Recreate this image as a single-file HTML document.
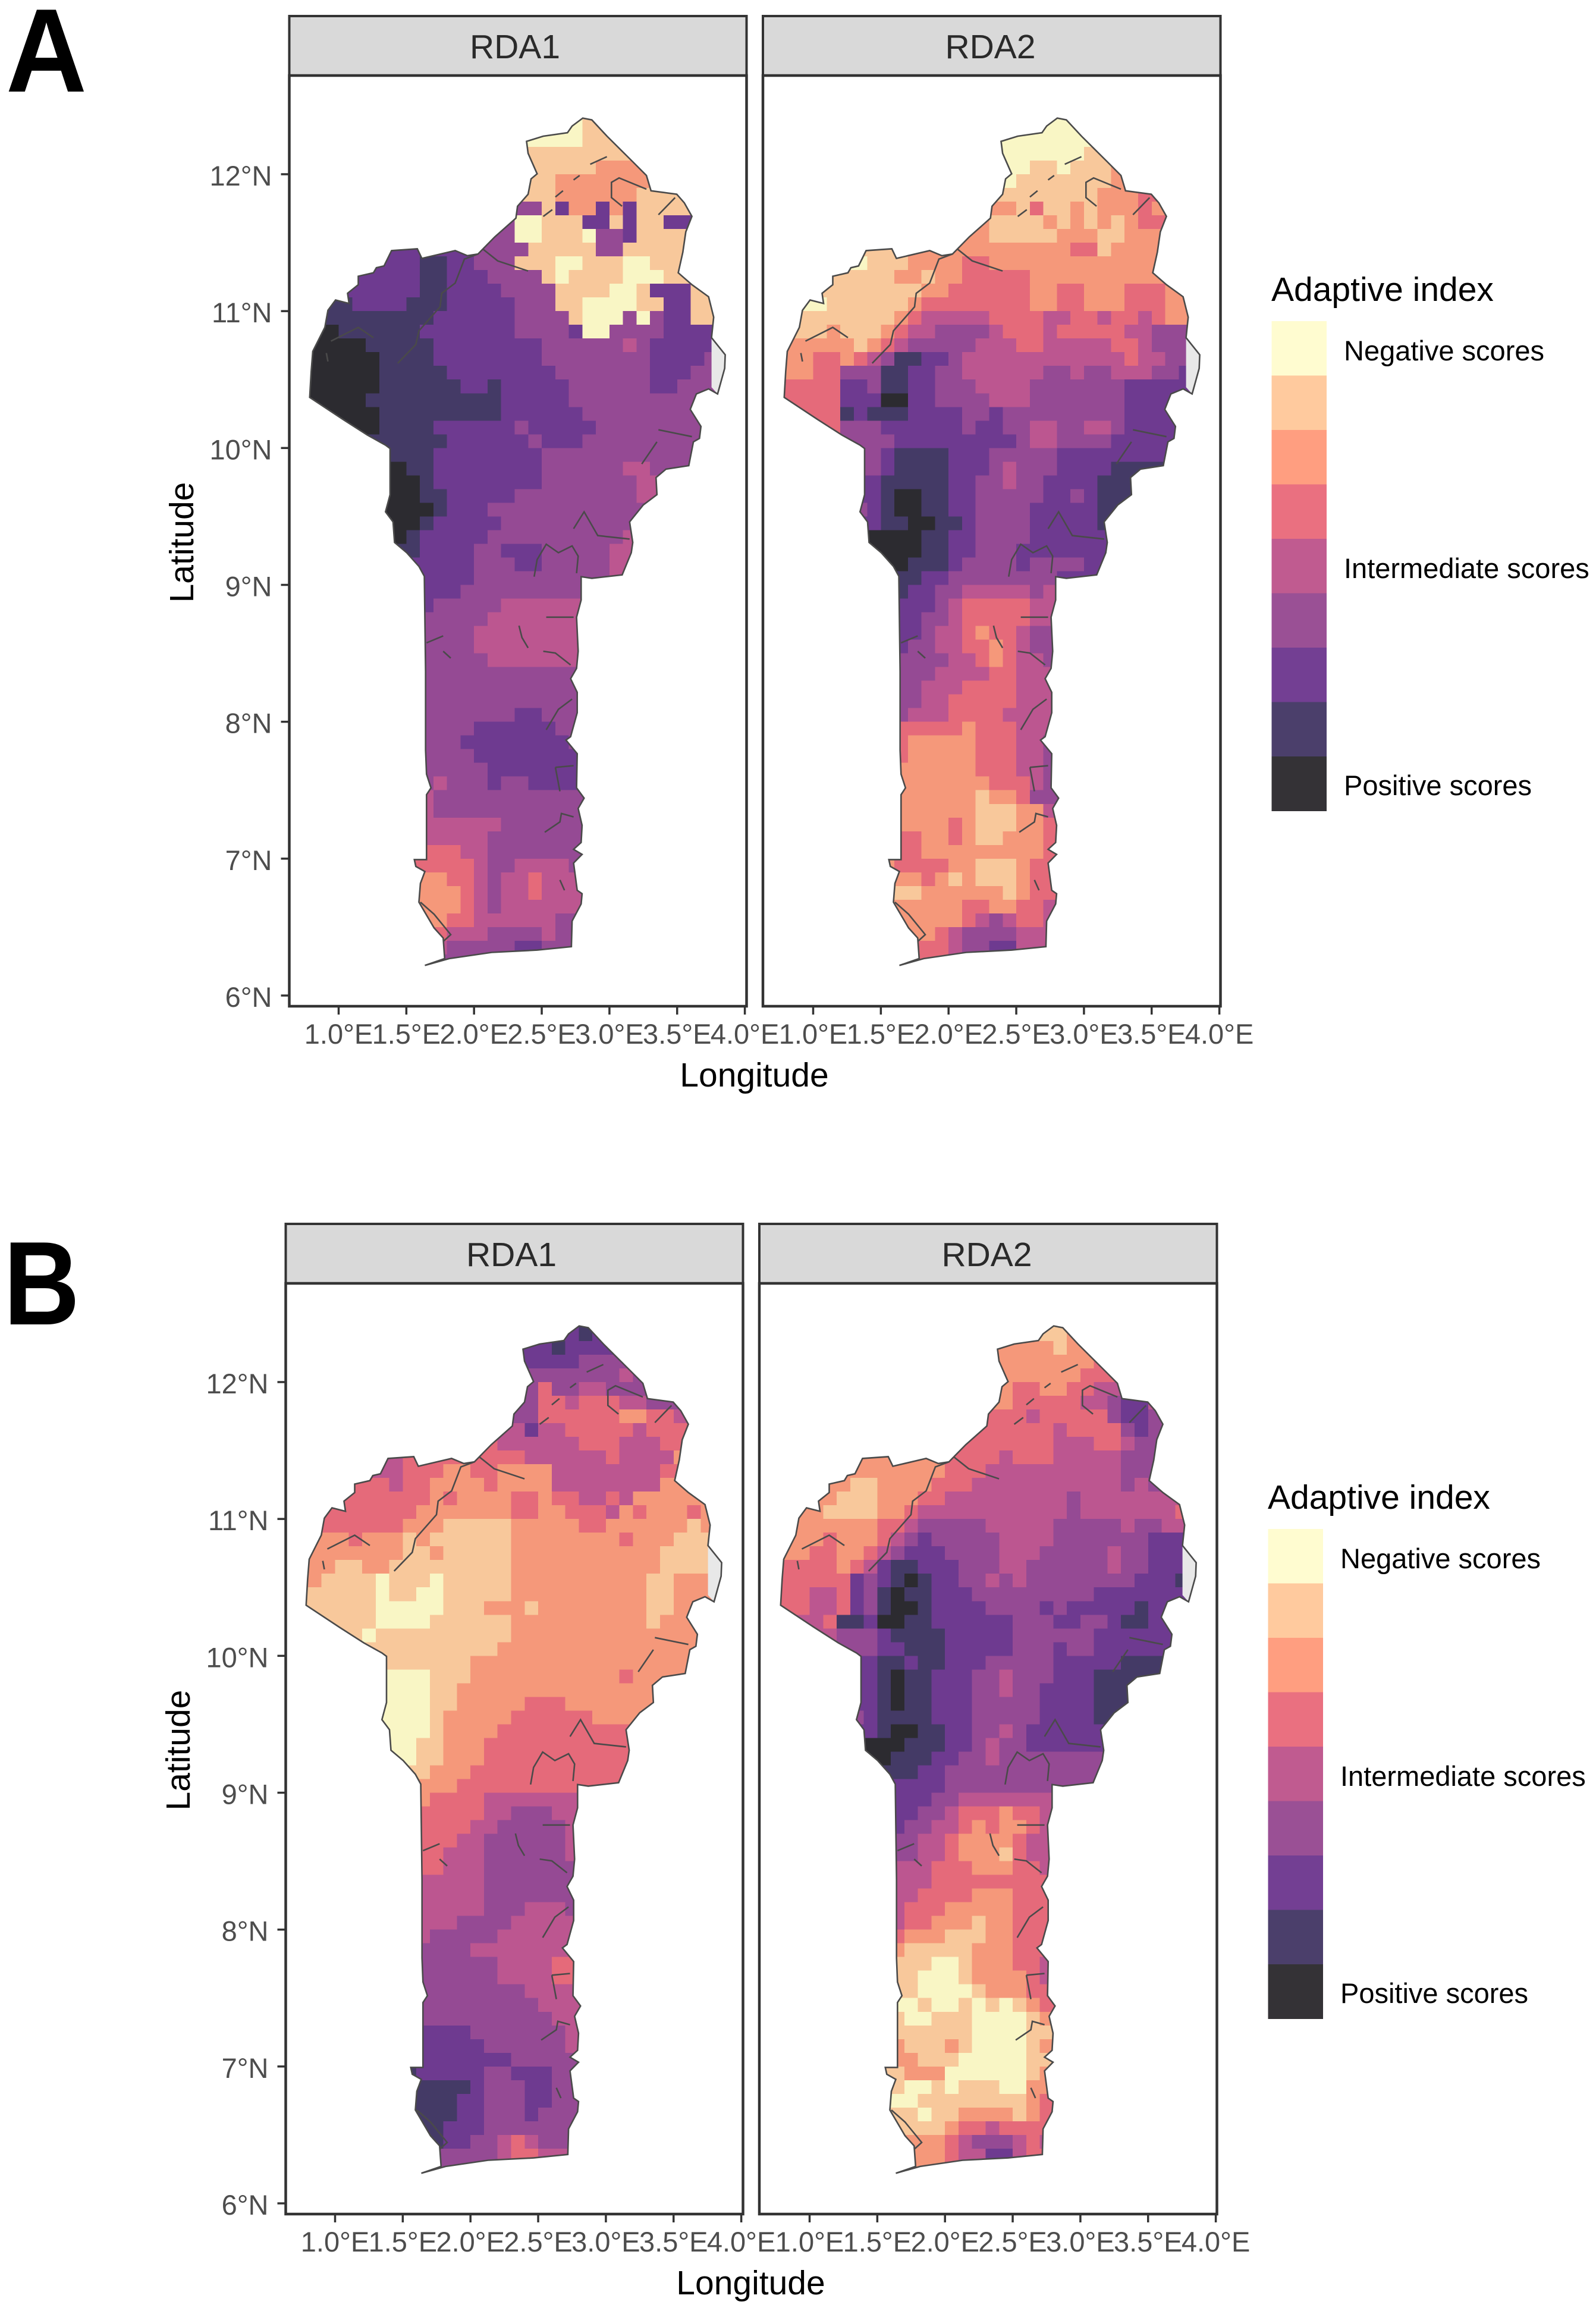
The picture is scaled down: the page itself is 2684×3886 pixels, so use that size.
<!DOCTYPE html>
<html lang="en">
<head>
<meta charset="utf-8">
<title>Adaptive index maps of Benin, RDA1 and RDA2</title>
<style>
html,body{margin:0;padding:0;background:#fff;}
svg{display:block;}
text{font-family:"Liberation Sans",Arial,sans-serif;}
.strip-bg{fill:#d9d9d9;stroke:#333;stroke-width:4;}
.strip-label{font-size:57px;fill:#2a2a2a;text-anchor:middle;}
.axis-title{font-size:57px;fill:#000;}
.legend-title{font-size:57px;fill:#000;}
.legend-label{font-size:47px;fill:#000;}
.panel-letter{font-size:200px;font-weight:bold;fill:#000;}
.tick-label{font-size:47px;fill:#4d4d4d;}
</style>
</head>
<body>
<svg id="figure" xmlns="http://www.w3.org/2000/svg" width="2684" height="3886" viewBox="0 0 2684 3886">
  <rect x="0" y="0" width="2684" height="3886" fill="#fff"/>

  <text class="panel-letter" x="10" y="154" textLength="136" lengthAdjust="spacingAndGlyphs">A</text>
  <text class="panel-letter" x="6" y="2227" textLength="128" lengthAdjust="spacingAndGlyphs">B</text>

  <g id="block-a">
    <rect class="strip-bg" x="486.5" y="27" width="769" height="100"/>
    <text class="strip-label" x="866" y="98">RDA1</text>
    <rect class="strip-bg" x="1283" y="27" width="769.5" height="100"/>
    <text class="strip-label" x="1665.5" y="98">RDA2</text>
    <text class="axis-title" text-anchor="middle" x="1268.5" y="1827">Longitude</text>
    <text class="axis-title" text-anchor="middle" transform="translate(325,912) rotate(-90)">Latitude</text>
    <text class="legend-title" x="2138" y="506">Adaptive index</text>
    <text class="legend-label" x="2260" y="606">Negative scores</text>
    <text class="legend-label" x="2260" y="972">Intermediate scores</text>
    <text class="legend-label" x="2260" y="1337">Positive scores</text>
  </g>

  <g id="block-b" transform="translate(-6,2031)">
    <rect class="strip-bg" x="486.5" y="27" width="769" height="100"/>
    <text class="strip-label" x="866" y="98">RDA1</text>
    <rect class="strip-bg" x="1283" y="27" width="769.5" height="100"/>
    <text class="strip-label" x="1665.5" y="98">RDA2</text>
    <text class="axis-title" text-anchor="middle" x="1268.5" y="1827">Longitude</text>
    <text class="axis-title" text-anchor="middle" transform="translate(325,912) rotate(-90)">Latitude</text>
    <text class="legend-title" x="2138" y="506">Adaptive index</text>
    <text class="legend-label" x="2260" y="606">Negative scores</text>
    <text class="legend-label" x="2260" y="972">Intermediate scores</text>
    <text class="legend-label" x="2260" y="1337">Positive scores</text>
  </g>
</svg>

<script>
/* ---------- axis data ---------- */
var lonTicks = [1, 1.5, 2, 2.5, 3, 3.5, 4];
var lonTickLabels = ["1.0°E", "1.5°E", "2.0°E", "2.5°E", "3.0°E", "3.5°E", "4.0°E"];
var latTicks = [6, 7, 8, 9, 10, 11, 12];
var latTickLabels = ["6°N", "7°N", "8°N", "9°N", "10°N", "11°N", "12°N"];

/* ---------- raster grid definition (degrees) ---------- */
var gridWestLon = 0.8;
var gridNorthLat = 12.4;
var gridStepDeg = 0.1;

/* score class 1 (negative) to 9 (positive) */
var classColors = ["", "#f9f6c5", "#f8c89b", "#f5987a", "#e56a7a", "#bc5690", "#954a94", "#6e3a90", "#443a66", "#2c2b30"];
var legendClasses = [1, 2, 3, 4, 5, 6, 7, 8, 9];
var legendColors = ["#fffcd0", "#ffca9e", "#ff9e80", "#ea7080", "#c05b90", "#9a5095", "#733f93", "#4b3f6b", "#343236"];

/* ---------- raster values: rows north to south, columns west to east ---------- */
var rda1RowsA = [
"................... 1 22",
"................ 1111 222",
"................ 22222222",
"................ 22222 3333",
"............... 222 3333333 2",
"............... 222 333333 22222",
".............. 666 2 7 33 7 3 7 222222",
"............. 66 11 222 77 2 7 22 777 2",
"............ 666 11 222 1 66 7 22222",
"...... 777777 6666 22222 66 22222 6",
"..... 777 88 77 666 222 11 222 11 2222",
"... 77777 88 777 6666 2 1 2222 111 222",
".. 777777 88 7777 6666 2222 11 2 777 22",
". 88 7777 888 77777 666 22 1111 22 77 22",
". 88888888 777777 6666 2 111 6 1 6 77 22",
"9 9 888888 7777777 6666 7 11 6666 7777",
"9999 88888 77777777 666666 5 6 77777",
"99999 8888 77777777 66666666 7777 6",
"99999 88888 77777777 6666666 777 66",
"99999 888888 77 8 77777 666666 77 666",
"9999 8888888 888 77777 6666666666",
". 9999 888888 888 777777 66666666",
"... 99 8888 777777 6 77777 66666666",
".... 888888 777777 6 777 66666666",
"...... 888 77777777 66666666666",
"...... 9 88 77777777 666666 55 666",
"...... 99 8 77777777 6666666 5",
"...... 99 88 77777 666666666 5",
"...... 999 8 777 666666666666",
"...... 99 8 77777 6666666666",
"...... 9 8 77777 6666666666 5",
"....... 8 7777 66 777 66666 55",
"....... 7 7777 666 77 66666 55",
"........ 7777 66666666 6655",
"........ 777 666666666",
"........ 7 66666 555555",
"........ 66666 5555555",
"........ 6666 55555555",
"........ 6666 55555555",
"........ 66666 5555555",
"........ 666666666666",
"........ 666666666666",
"........ 666666666666",
"........ 6666666 77 666",
"........ 6666 777777 66",
"........ 666 77777777 6",
"........ 6666 77777777",
"........ 66666 7777777",
"........ 6 5 666 7 66 7777",
"........ 5 66666666666",
"........ 5 66666666666",
"........ 555555 666666",
"........ 55555 6666666",
"........ 444 55 6666666",
"....... 44444 5 66 5555 6",
"....... 3 33 44 5 6 55 4 555",
"....... 3 333 4 5 6 55 4 555",
"....... 3 333 4 5 6 555555",
"........ 33 44 555555 66",
"......... 4 55 5 6666 5 66",
"......... 5 66666 77 666",
"......... 66666"
];

var rda2RowsA = [
"................... 111",
"................ 1111111",
"................ 11111122",
"................ 11 22 1 222 33",
"............... 2 1 222222 2 33",
"............... 22222222 333 44 3",
".............. 333 2 4 22 3 2 333 4 333",
"............. 33 2222 3 2 3 2 3 2 3 444",
"............ 333 22222 333 22 3333",
"...... 22 3333 333333333 44 2 33333",
"..... 1 222 3333 44 3333333333333",
"... 22222 33 2 33 44444 3333333333",
".. 22222222 33 444444 33 44 333 444 3",
". 11 222222 3 44444444 33 44 333 444 33",
". 2222222 3 4 55555 4444 55 44 5 44 5 4 33",
"222 3 222 3 4 55 6666 5 444 5 44444 55 666",
"33333 2 3 4 5 66666 555 44 55555 44 5 666",
"33 44 3 4 5 6 88 77 6 555555555555 4 55 66",
"33 44 666 88 77 66 555555 66 5 66 555 66 7",
"4444 77 6 88 77 666 5555 6666666 7777",
". 444 777 99 77 6666 555 6666666 777",
". 444 8 7 888 7777 66 7 666666666 777",
"... 4 666 777777 6 77 66 55 66 55 6 7777",
".... 6666 777777777 6 55 6666 7777",
"...... 6 7 8888 777 66666 77777777",
"...... 6 7 8888 777 6 5 666 7777 8888",
"...... 7 88888 77 66 5 66 7777 888",
"...... 7 8 99 88 77 66666 77 6 7 888",
"..... 6 7 8 99 88 77 6666 77777 88",
"...... 7 88 99 88 7 6666 77777 8 7",
"...... 9999 88 77 6666 7777777",
"...... 9999 88 77 666 7777777",
"....... 99 888 7 6666 7 6666 77",
"........ 88 77 66666666 7777",
"........ 8 77 66 55555 6 5",
"........ 777 6 5 44444 55",
"........ 77 66 5 44444 55",
"........ 77 6 55 4 3 44 5 66",
"........ 7 66 55 44 3 4 5 66",
"........ 6666 55 4 3 4 55 6",
"........ 666 5555 44 555",
"........ 66 555 4444 555",
"........ 66 55 44444 555",
"........ 6 555 4444 555",
"........ 44444 3 444 555",
"........ 4 33333 444 55 6",
"........ 4 33333 444 55 6",
"........ 333333 444 55 6",
"........ 3333333 444 5 6",
"........ 333333 2 33 4 66",
"........ 333333 222 33 5",
"........ 3333 4 3 222 33 4",
"........ 44 33 4 3 22 333 4",
"........ 44 333333333 4",
"....... 3 4444 33 222 3 44",
"....... 2 33 4 3 2 3 222 3 44",
"....... 222 333333 2 3 44",
"....... 333333 44 33 44 5",
"........ 33333 4 5 6 5 44 5",
"......... 33 4 5 6666 555",
"......... 444 5 66 77 555",
"......... 444 5 666 77"
];

var rda1RowsB = [
"................... 787",
"................ 77 8 7777",
"................ 7777 6666",
"................ 6666666 5 66",
"............... 66 4 66 55 666 7",
"............... 66 44 5 444 55 666",
".............. 666 444444 33 44 55",
"............. 555 7 55 44444 5 4444",
"............ 44 555555 444 555 444",
"...... 5 444444444 555555 4 5555 33",
"..... 55 444 33 44 3333 55555555 444",
"... 444 5 44 3333 4 3333 55555555 333",
".. 4444444 3 4 3333 44 3 44 55 4 5 33333",
". 4444444 3333333 44 33 444 5 3 4 333 4 3",
". 444444 333 22222 33333 44 333333 2 3",
". 33 4 333 2 3 222222 33333333 4 333 222",
"3333333 22 3 22222 33333333333 2222",
"33 22 33 222222222 33333333333 2222",
"3 2222 1 222 1 22222 3333333333 22 333",
"22222 1 22 11 22222 3333333333 22 33",
". 2222 11111 222 333 2 33333333 22 33",
".. 222 1111 222222 3333333333 2 33",
"... 2 1 2222222222 33333333333333",
".... 2222222222 33333333333333",
"...... 222222 3333333333333333",
"...... 111 222 33333333333 4 333",
"...... 111 22 333333333333333",
"...... 111 22 33333 444 3333333",
"..... 1111 2 33333 444444 3333",
"...... 111 2 3333 4444444444",
"...... 11 22 333 444444444444",
"....... 1 22 333 44444444444",
"........ 2 333 444444444444",
"........ 333 4444444444444",
"........ 3 4444 5555555",
"........ 44444 55 666 55",
"........ 4444 55 66666 5",
"........ 444 55 666666 5",
"........ 44 555 666666 5",
"........ 44 555 6666666",
"........ 55555 6666666",
"........ 55555 6666666",
"........ 55555 666 555 6",
"........ 555 6666 55555",
"........ 5 66666 555555",
"........ 6666 55555555",
"........ 666666 5555 44",
"........ 666666 5555 44",
"........ 66666666 5555",
"........ 666666666 555",
"........ 6666666666 55",
"........ 7777 6666666 5",
"........ 77777 666666 5",
"........ 7777777 66666",
"....... 8 77777 66 777 66",
"....... 88888 7 666 77 66",
"....... 8888 77 666 77 66",
"........ 888 77 666 7 666",
"........ 88 777 6666666",
"......... 8 77 66 5 4 5 666",
"......... 66666 5 44 555",
"......... 666666 55 44"
];

var rda2RowsB = [
"................... 22 3",
"................ 3333 2 33",
"................ 3333333 44",
"................ 333333 4444",
"............... 33 44 33 44 555",
"............... 33 44444 55 6 77 5",
".............. 4444 5 44444 6 77 6 5",
"............. 4444444 5 4444 6 7 6 5",
"............ 44444444 555 44 5 666",
"...... 333333 4444 5 444 55555 666",
"..... 3333333 444 5555555555 666",
"... 33 22 3333 444 55555555555 6 5 6",
".. 33 222 333 44 555555555 6 5555555",
". 33 2222 33 4 55555555555 6 5555555 4",
". 333333 44 5 66666 55555 66666 5 66 55",
". 33 4 333 4 5 6 7 66666 5555 6666666 777",
"33 44 33 4 5 6 777 6666 555 66666 5 66 777",
"4444 3 4 5 7 88 777 666 55 666666 5 66 777",
"44444 7 6 7 8 9 8 77 66 5 6 5 66666666 777 8",
"44 55 4 7 6 8 9 88 777 666666666 777777",
". 4 55 4 7 6 8 99 8 7777 6666 7 6 77777 8 7",
".. 5 4 88 7 99 88 777777 666 77 66 7 88 7",
"... 5 666 7 8888 77777 666666 777777",
".... 666 77 888 77777 666 7 66 77777",
"...... 7 88 7 88 777 66666 77777 888",
"...... 7 8 9 88 777 66 5 666 777 88888",
"...... 7 8 9 88 777 66 5 66 7777 888",
"...... 7 8 9 88 777 66666 7777 888",
"..... 6 7 8888 777 66666 7777 88",
"...... 7 8 99 88 77 66 5 6 777777",
"...... 999 888 77 6 5 66 777777",
"....... 9 888 77 66 5 66666666",
"........ 88 77 666666666666",
"........ 7777 666666666666",
"........ 777 66 5555555",
"........ 77 66 5 444 3 44 5",
"........ 7 66 55 4 3 4 33 4 5",
"........ 66 55 4 3333 4 55",
"........ 66 55 4 333 2 4 55",
"........ 555 444 333 44 5",
"........ 555 444444444",
"........ 55 4444 333 444",
"........ 5 444 33333 444",
"........ 5 44 333 2 33 444",
"........ 4 333 222 33 444",
"........ 3 22222 333 444",
"........ 222 11 2 333 44 5",
"........ 22 111 2 3333 4 5",
"........ 22 1111 2 333 44",
"........ 11 2 11 2 1 2 1 2 3 4",
"........ 2 11 222 1111 2 3",
"........ 222222 1111 22",
"........ 3 222 3 2 1111 2 3",
"....... 2 33 222 11111 22",
"....... 22 333 111111 2 3",
"........ 2 11 2 1 222 11 33",
"........ 11 22222222 3 4",
"........ 22 1 22 3333 2 3 4",
"......... 222 3 44 5 4444",
"......... 333 4 5 666 5 4 5",
"......... 333 4 55 77 5 44",
"......... 333 4 5"
];

/* ---------- geography in [lon, lat] ---------- */
var borderPoints = [
[2.724,12.352],[2.803,12.410],[2.870,12.397],[2.982,12.278],[3.071,12.190],[3.172,12.091],[3.273,11.991],[3.307,11.879],[3.497,11.854],[3.553,11.791],[3.609,11.692],[3.564,11.579],[3.542,11.430],[3.508,11.280],[3.609,11.193],[3.732,11.105],[3.770,10.956],[3.754,10.806],[3.855,10.681],[3.851,10.582],[3.799,10.395],[3.732,10.432],[3.642,10.395],[3.597,10.282],[3.676,10.158],[3.665,10.070],[3.620,10.045],[3.586,9.871],[3.418,9.846],[3.344,9.784],[3.351,9.659],[3.250,9.584],[3.149,9.460],[3.172,9.310],[3.161,9.235],[3.094,9.073],[2.870,9.048],[2.791,9.060],
[2.791,8.889],[2.757,8.764],[2.769,8.515],[2.757,8.390],[2.713,8.315],[2.762,8.215],[2.762,8.066],[2.713,7.891],[2.679,7.866],[2.762,7.767],[2.757,7.517],[2.813,7.442],[2.769,7.367],[2.798,7.243],[2.791,7.118],[2.735,7.068],[2.798,7.031],[2.735,6.968],[2.762,6.769],[2.798,6.744],[2.791,6.669],[2.724,6.544],[2.719,6.357],[2.466,6.332],[2.130,6.315],[1.817,6.270],[1.637,6.220],[1.783,6.270],[1.772,6.420],[1.705,6.494],[1.593,6.682],[1.604,6.819],[1.637,6.906],[1.570,6.943],[1.559,6.993],[1.649,6.993],[1.649,7.467],[1.682,7.517],[1.649,7.617],[1.642,7.792],[1.642,8.365],[1.633,9.063],
[1.593,9.135],[1.503,9.235],[1.413,9.310],[1.402,9.460],[1.346,9.534],[1.380,9.659],[1.380,9.996],[1.346,10.021],[1.212,10.095],[1.033,10.208],[0.786,10.370],[0.797,10.557],[0.809,10.706],[0.898,10.881],[0.921,11.006],[0.977,11.081],[1.077,11.056],[1.066,11.130],[1.145,11.193],[1.145,11.255],[1.257,11.280],[1.279,11.317],[1.335,11.330],[1.391,11.442],[1.581,11.455],[1.615,11.385],[1.861,11.442],[1.951,11.405],[2.029,11.417],[2.153,11.542],[2.309,11.679],[2.321,11.766],[2.399,11.854],[2.421,11.966],[2.466,12.003],[2.399,12.153],[2.388,12.240],[2.511,12.278],[2.690,12.303]
];

var noDataSliver = [[3.754,10.806],[3.855,10.681],[3.851,10.582],[3.799,10.395],[3.754,10.444]];

var riverLines = [
[[2.029,11.417],[1.929,11.380],[1.861,11.205],[1.761,11.130],[1.749,11.031],[1.593,10.856],[1.570,10.756],[1.436,10.619]],
[[2.063,11.455],[2.175,11.367],[2.399,11.293]],
[[2.858,12.073],[2.981,12.128]],
[[2.735,11.958],[2.780,11.991]],
[[2.601,11.834],[2.657,11.879]],
[[2.511,11.692],[2.578,11.741]],
[[3.273,11.891],[3.071,11.973],[3.015,11.941],[3.015,11.829],[3.093,11.766]],
[[3.362,11.704],[3.485,11.829]],
[[0.943,10.781],[1.145,10.881],[1.257,10.806]],
[[0.909,10.694],[0.921,10.632]],
[[2.444,9.060],[2.466,9.185],[2.533,9.297],[2.623,9.235],[2.724,9.285],[2.769,9.210],[2.757,9.085]],
[[2.735,9.410],[2.813,9.534],[2.914,9.360],[3.149,9.335]],
[[3.239,9.883],[3.351,10.045]],
[[3.362,10.133],[3.609,10.083]],
[[2.332,8.702],[2.354,8.615],[2.399,8.540]],
[[2.533,8.764],[2.735,8.764]],
[[2.511,8.515],[2.601,8.502],[2.713,8.415]],
[[1.649,8.577],[1.772,8.627]],
[[1.772,8.515],[1.828,8.465]],
[[2.533,7.941],[2.623,8.091],[2.724,8.166]],
[[2.601,7.667],[2.735,7.679]],
[[2.601,7.667],[2.634,7.492]],
[[2.522,7.193],[2.634,7.268],[2.645,7.330],[2.735,7.305]],
[[2.634,6.844],[2.668,6.769]],
[[1.604,6.682],[1.705,6.594],[1.828,6.445],[1.772,6.395]]
];

/* ---------- scales ---------- */
var SVGNS = "http://www.w3.org/2000/svg";
var PX_PER_LON = 227.7;
var PX_PER_LAT = 230.17;
var LAT_ZERO_Y = 1674;
var PANEL_TOP = 127;
var PANEL_BOTTOM = 1692;
var EDGE_PAD_CELLS = 3;

function yScale(lat) { return LAT_ZERO_Y - (lat - 6) * PX_PER_LAT; }
function xScaleFor(lonOneX) {
  return function (lon) { return lonOneX + (lon - 1) * PX_PER_LON; };
}
function svgEl(tag, attrs) {
  var el = document.createElementNS(SVGNS, tag);
  for (var k in attrs) { el.setAttribute(k, attrs[k]); }
  return el;
}
function pointsString(pts, xScale) {
  return pts.map(function (p) { return xScale(p[0]).toFixed(1) + "," + yScale(p[1]).toFixed(1); }).join(" ");
}

/* ---------- one facet ---------- */
function drawFacet(parent, rows, key, left, right, lonOneX, showLatAxis) {
  var xScale = xScaleFor(lonOneX);
  var g = svgEl("g", {});
  
  
  parent.appendChild(g);

  var bg = svgEl("rect", { x: left, y: PANEL_TOP, width: right - left, height: PANEL_BOTTOM - PANEL_TOP, fill: "#fff" });
  
  
  g.appendChild(bg);

  var clip = svgEl("clipPath", { id: "clip-" + key });
  clip.appendChild(svgEl("polygon", { points: pointsString(borderPoints, xScale) }));
  g.appendChild(clip);

  var raster = svgEl("g", { "clip-path": "url(#clip-" + key + ")", "shape-rendering": "crispEdges" });
  
  
  g.appendChild(raster);

  rows.forEach(function (rawRow, r) {
    var row = rawRow.replace(/ /g, "");
    var first = row.search(/[^.]/);
    var last = row.length - 1;
    /* row edges are carried a few cells outward; the border clip trims them */
    for (var c = first - EDGE_PAD_CELLS; c <= last + EDGE_PAD_CELLS; c++) {
      var cls = c < first ? row.charAt(first) : (c > last ? row.charAt(last) : row.charAt(c));
      var lon = gridWestLon + c * gridStepDeg;
      var lat = gridNorthLat - r * gridStepDeg;
      var cell = svgEl("rect", {
        x: xScale(lon).toFixed(1),
        y: yScale(r === 0 ? lat + gridStepDeg / 2 : lat).toFixed(1),
        width: (gridStepDeg * PX_PER_LON + 0.6).toFixed(1),
        height: (gridStepDeg * PX_PER_LAT * (r === 0 ? 1.5 : 1) + 0.6).toFixed(1),
        fill: classColors[+cls]
      });
      
      
      raster.appendChild(cell);
    }
  });

  var sliver = svgEl("polygon", { points: pointsString(noDataSliver, xScale), fill: "#e8e8e8" });
  
  
  g.appendChild(sliver);

  riverLines.forEach(function (line) {
    var river = svgEl("polyline", { points: pointsString(line, xScale), fill: "none", stroke: "#4a4a4a", "stroke-width": 2.6 });
    
    
    g.appendChild(river);
  });

  var border = svgEl("polygon", { points: pointsString(borderPoints, xScale), fill: "none", stroke: "#4a4a4a", "stroke-width": 2.6 });
  
  
  g.appendChild(border);

  var frame = svgEl("rect", { x: left, y: PANEL_TOP, width: right - left, height: PANEL_BOTTOM - PANEL_TOP, fill: "none", stroke: "#333", "stroke-width": 4.5 });
  
  
  g.appendChild(frame);

  lonTicks.forEach(function (lon, i) {
    var tick = svgEl("line", { x1: xScale(lon), x2: xScale(lon), y1: PANEL_BOTTOM, y2: PANEL_BOTTOM + 14, stroke: "#333", "stroke-width": 3.5 });
    
    
    g.appendChild(tick);
    var label = svgEl("text", { "class": "tick-label", x: xScale(lon), y: 1755, "text-anchor": "middle" });
    label.textContent = lonTickLabels[i];
    
    
    g.appendChild(label);
  });

  if (showLatAxis) {
    latTicks.forEach(function (lat, i) {
      var tick = svgEl("line", { x1: left - 14, x2: left, y1: yScale(lat), y2: yScale(lat), stroke: "#333", "stroke-width": 3.5 });
      
      
      g.appendChild(tick);
      var label = svgEl("text", { "class": "tick-label", x: left - 29, y: yScale(lat) + 19, "text-anchor": "end" });
      label.textContent = latTickLabels[i];
      
      
      g.appendChild(label);
    });
  }
}

/* ---------- legend ---------- */
function drawLegend(parent) {
  var LEGEND_TOP = 540, SWATCH_H = 91.5;
  legendClasses.forEach(function (cls, i) {
    var swatch = svgEl("rect", {
      x: 2138.5,
      y: LEGEND_TOP + i * SWATCH_H,
      width: 92.5,
      height: SWATCH_H + 0.5,
      fill: legendColors[i]
    });
    
    
    parent.appendChild(swatch);
  });
}

var blockA = document.getElementById("block-a");
var blockB = document.getElementById("block-b");
drawFacet(blockA, rda1RowsA, "a-rda1", 486.5, 1255.5, 569.5, true);
drawFacet(blockA, rda2RowsA, "a-rda2", 1283, 2052.5, 1367.5, false);
drawFacet(blockB, rda1RowsB, "b-rda1", 486.5, 1255.5, 569.5, true);
drawFacet(blockB, rda2RowsB, "b-rda2", 1283, 2052.5, 1367.5, false);
drawLegend(blockA);
drawLegend(blockB);
</script>
</body>
</html>
